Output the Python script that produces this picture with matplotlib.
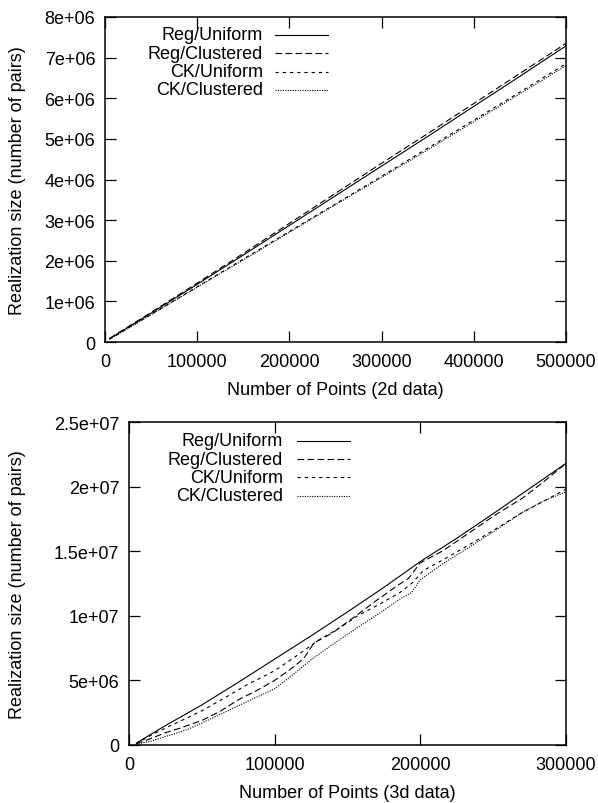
import numpy as np
import matplotlib
matplotlib.use("Agg")
import matplotlib.pyplot as plt

plt.rcParams['font.family'] = ['Liberation Sans', 'DejaVu Sans']
plt.rcParams['font.size'] = 13

# ---- 2d data (top) ----
x2d = [5000, 50000, 100000, 150000, 200000, 250000, 300000, 350000, 400000, 450000, 500000]
reg_uni_2d = [0.08e6, 0.71e6, 1.42e6, 2.14e6, 2.87e6, 3.60e6, 4.33e6, 5.06e6, 5.80e6, 6.54e6, 7.29e6]
reg_clu_2d = [0.09e6, 0.73e6, 1.45e6, 2.18e6, 2.92e6, 3.66e6, 4.40e6, 5.13e6, 5.87e6, 6.61e6, 7.35e6]
ck_uni_2d = [0.07e6, 0.68e6, 1.36e6, 2.04e6, 2.72e6, 3.40e6, 4.08e6, 4.77e6, 5.46e6, 6.15e6, 6.85e6]
ck_clu_2d = [0.07e6, 0.67e6, 1.35e6, 2.02e6, 2.70e6, 3.38e6, 4.05e6, 4.73e6, 5.42e6, 6.11e6, 6.80e6]

# ---- 3d data (bottom) ----
x_reg_uni_3d = [5000, 25000, 50000, 75000, 100000, 125000, 150000, 175000, 200000, 225000, 250000, 275000, 300000]
reg_uni_3d = [0.15e6, 1.5e6, 3.1e6, 4.85e6, 6.65e6, 8.45e6, 10.3e6, 12.2e6, 14.2e6, 16.0e6, 17.9e6, 19.85e6, 21.8e6]

x_reg_clu_3d = [5000, 15000, 25000, 35000, 50000, 62500, 75000, 87500, 100000, 112500, 120000, 127000,
                140000, 157000, 170000, 185000, 192000, 200000, 215000, 232000, 250000, 270000, 285000, 300000]
reg_clu_3d = [0.1e6, 0.5e6, 0.95e6, 1.3e6, 1.9e6, 2.6e6, 3.5e6, 4.2e6, 5.0e6, 6.0e6, 6.7e6, 7.9e6,
              8.7e6, 10.1e6, 11.2e6, 12.4e6, 12.9e6, 14.1e6, 15.0e6, 16.3e6, 17.7e6, 19.1e6, 20.4e6, 21.8e6]

x_ck_uni_3d = [5000, 15000, 27000, 40000, 50000, 65000, 80000, 100000, 115000, 130000, 145000, 157000,
               172000, 186000, 195000, 202000, 215000, 232000, 250000, 270000, 285000, 300000]
ck_uni_3d = [0.1e6, 0.75e6, 1.42e6, 2.1e6, 2.65e6, 3.6e6, 4.6e6, 5.75e6, 6.9e6, 8.1e6, 9.1e6, 10.0e6,
             10.9e6, 11.8e6, 12.6e6, 13.5e6, 14.3e6, 15.4e6, 16.6e6, 18.0e6, 18.9e6, 19.8e6]

x_ck_clu_3d = [5000, 15000, 27000, 40000, 50000, 65000, 80000, 100000, 112000, 125000, 140000, 157000,
               172000, 186000, 194000, 200000, 215000, 232000, 250000, 270000, 285000, 300000]
ck_clu_3d = [0.05e6, 0.3e6, 0.72e6, 1.2e6, 1.7e6, 2.5e6, 3.3e6, 4.35e6, 5.4e6, 6.6e6, 7.8e6, 9.1e6,
             10.2e6, 11.3e6, 11.8e6, 12.8e6, 14.0e6, 15.2e6, 16.5e6, 18.0e6, 18.9e6, 19.6e6]

labels = ['Reg/Uniform', 'Reg/Clustered', 'CK/Uniform', 'CK/Clustered']
styles = [dict(ls='-'), dict(ls=(0, (6, 3))), dict(ls=(0, (3, 3.5))), dict(ls=(0, (1, 1.2)))]
lw = 0.8

fig = plt.figure(figsize=(5.98, 8.04), dpi=100)
ax1 = fig.add_axes([105/598, 1-343/804, 461/598, 325/804])
ax2 = fig.add_axes([129/598, 1-746/804, 437/598, 323/804])


def fmt_e(v):
    if v == 0:
        return '0'
    e = int(np.floor(np.log10(v)))
    m = v / 10**e
    return '%ge+%02d' % (m, e)


def style_axes(ax, xmax, ymax, ystep, xlabel):
    ax.set_xlim(0, xmax)
    ax.set_ylim(0, ymax)
    xt = np.arange(0, xmax + 1, 100000)
    ax.set_xticks(xt)
    ax.set_xticklabels([str(int(v)) for v in xt])
    yt = np.arange(0, ymax + 1, ystep)
    ax.set_yticks(yt)
    ax.set_yticklabels([fmt_e(v) for v in yt])
    ax.tick_params(direction='in', length=8, width=0.9, top=True, right=True, labelsize=13, pad=7)
    ax.tick_params(axis='x', pad=8)
    for s in ax.spines.values():
        s.set_linewidth(1.1)
    ax.set_xlabel(xlabel, fontsize=13, labelpad=8)
    ax.set_ylabel('Realization size (number of pairs)', fontsize=13)


def key(ax, tx, lx0, lx1, ys):
    for lab, st, y in zip(labels, styles, ys):
        ax.text(tx, y, lab, transform=ax.transAxes, ha='right', va='center', fontsize=13)
        ax.plot([lx0, lx1], [y, y], transform=ax.transAxes, color='black', lw=lw, **st)


# top
series2d = [reg_uni_2d, reg_clu_2d, ck_uni_2d, ck_clu_2d]
for ys, st in zip(series2d, styles):
    ax1.plot(x2d, ys, color='black', lw=lw, **st)
style_axes(ax1, 500000, 8e6, 1e6, 'Number of Points (2d data)')
ax1.yaxis.set_label_coords(-0.171, 0.5)
key(ax1, 0.343, 0.369, 0.484, [0.945, 0.888, 0.831, 0.776])

# bottom
series3d = [(x_reg_uni_3d, reg_uni_3d), (x_reg_clu_3d, reg_clu_3d),
            (x_ck_uni_3d, ck_uni_3d), (x_ck_clu_3d, ck_clu_3d)]
for (xs, ys), st in zip(series3d, styles):
    ax2.plot(xs, ys, color='black', lw=lw, **st)
style_axes(ax2, 300000, 2.5e7, 5e6, 'Number of Points (3d data)')
ax2.yaxis.set_label_coords(-0.236, 0.5)
key(ax2, 0.352, 0.384, 0.506, [0.942, 0.885, 0.829, 0.772])

fig.savefig('out.png', dpi=100)
